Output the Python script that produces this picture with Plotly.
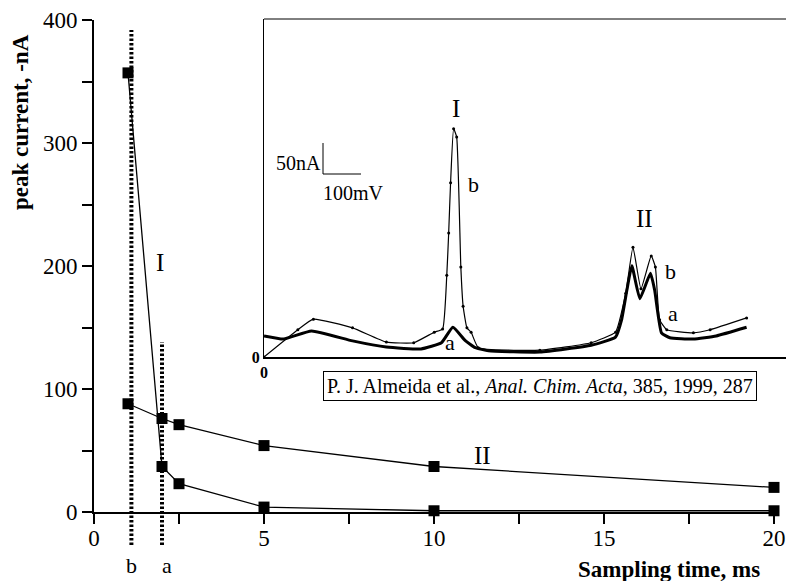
import plotly.graph_objects as go

W, H = 786, 581
def px(x):
    return x / W
def py(y):
    return 1 - y / H

# ---------------- main plot data ----------------
sampling_time = [1.0, 2.0, 2.5, 5, 10, 20]
peak_I = [357, 37, 23, 4, 1, 1]
peak_II = [88, 76, 71, 54, 37, 20]
x_ticks = [0, 2.5, 5, 7.5, 10, 12.5, 15, 17.5, 20]
x_tick_labels = ["0", "", "5", "", "10", "", "15", "", "20"]
y_ticks = [0, 50, 100, 150, 200, 250, 300, 350, 400]
y_tick_labels = ["0", "", "100", "", "200", "", "300", "", "400"]
t_b = 1.1
t_a = 2.0

# ---------------- inset voltammogram data (mV, nA) ----------------
pot_b = [0, 89, 130, 233, 322, 394, 448, 470, 481, 486, 491, 499, 507, 518, 524, 534, 545, 564,
         726, 861, 925, 952, 971, 992, 1019, 1030, 1041, 1060, 1130, 1174, 1270]
cur_b = [0, 44, 61, 47, 24, 23, 40, 45, 132, 200, 281, 368, 355, 145, 82, 47, 40, 15,
         11, 23, 40, 103, 177, 110, 163, 145, 60, 44, 39, 44, 63]
pot_a = [0, 52, 125, 233, 322, 413, 467, 497, 529, 556, 591, 726, 861, 925, 941, 955, 968,
         989, 1017, 1028, 1046, 1068, 1130, 1190, 1270]
cur_a = [34, 29, 42, 26, 16, 13, 23, 48, 27, 15, 10, 8, 19, 32, 60, 108, 147,
         94, 135, 108, 39, 31, 29, 34, 48]

SERIF = "Liberation Serif, Times New Roman, serif"

fig = go.Figure()

for ys in (peak_I, peak_II):
    fig.add_trace(go.Scatter(
        x=sampling_time, y=ys, mode="lines+markers",
        line=dict(color="black", width=1.3),
        marker=dict(symbol="square", size=11, color="black"),
        cliponaxis=False, showlegend=False, xaxis="x", yaxis="y"))

fig.add_trace(go.Scatter(
    x=pot_b, y=cur_b, mode="lines+markers",
    line=dict(color="black", width=1.2, shape="spline", smoothing=0.4),
    marker=dict(size=3, color="black"),
    showlegend=False, xaxis="x2", yaxis="y2"))
fig.add_trace(go.Scatter(
    x=pot_a, y=cur_a, mode="lines",
    line=dict(color="black", width=3, shape="spline", smoothing=0.4),
    showlegend=False, xaxis="x2", yaxis="y2"))

tickfont = dict(family=SERIF, size=23, color="black")

fig.update_layout(
    template="none",
    width=W, height=H,
    margin=dict(l=0, r=0, t=0, b=0, autoexpand=False),
    paper_bgcolor="white", plot_bgcolor="rgba(0,0,0,0)",
    xaxis=dict(domain=[px(94), px(774)], range=[0, 20],
               tickvals=x_ticks, ticktext=x_tick_labels,
               ticks="outside", ticklen=10, tickwidth=2, tickcolor="black",
               ticklabelstandoff=-6,
               showline=True, linewidth=2, linecolor="black", automargin=False,
               showgrid=False, zeroline=False, tickfont=tickfont,
               anchor="y"),
    yaxis=dict(domain=[py(512), py(20)], range=[0, 400],
               tickvals=y_ticks, ticktext=y_tick_labels,
               ticks="outside", ticklen=10, tickwidth=2, tickcolor="black",
               showline=True, linewidth=2, linecolor="black", automargin=False,
               showgrid=False, zeroline=False, tickfont=tickfont,
               anchor="x"),
    xaxis2=dict(domain=[px(264), 1.0], range=[0, (W - 264) / 38 * 100],
                tickvals=[0], ticktext=["<b>0</b>"], ticks="",
                tickfont=dict(family=SERIF, size=16, color="black"),
                showline=True, linewidth=2, linecolor="black", automargin=False,
                showgrid=False, zeroline=False, anchor="y2"),
    yaxis2=dict(domain=[py(357), py(19)], range=[0, (357 - 19) * 50 / 31],
                tickvals=[0], ticktext=["<b>0</b>"], ticks="",
                tickfont=dict(family=SERIF, size=16, color="black"),
                showline=True, linewidth=1, linecolor="black", automargin=False,
                showgrid=False, zeroline=False, anchor="x2"),
)

shapes = [
    # dotted sampling-time markers
    dict(type="line", xref="x", yref="paper", x0=t_b, x1=t_b, y0=py(545), y1=py(30),
         line=dict(color="black", width=4, dash="2.5px,2px")),
    dict(type="line", xref="x", yref="paper", x0=t_a, x1=t_a, y0=py(545), y1=py(342),
         line=dict(color="black", width=4, dash="2.5px,2px")),
    # inset top border
    dict(type="line", xref="paper", yref="paper", x0=px(264), x1=1.0, y0=py(19), y1=py(19),
         line=dict(color="black", width=1)),
    # scale bar
    dict(type="line", xref="paper", yref="paper", x0=px(323), x1=px(323), y0=py(143), y1=py(174),
         line=dict(color="black", width=1)),
    dict(type="line", xref="paper", yref="paper", x0=px(323), x1=px(361), y0=py(174), y1=py(174),
         line=dict(color="black", width=1)),
]
fig.update_layout(shapes=shapes)

def ann(text, x, y, size, xanchor="center", yanchor="middle", **kw):
    fig.add_annotation(text=text, x=px(x), y=py(y), xref="paper", yref="paper",
                       xanchor=xanchor, yanchor=yanchor, showarrow=False,
                       font=dict(family=SERIF, size=size, color="black"), **kw)

ann("<b>peak current, -nA</b>", 20, 122, 23, textangle=-90)
ann("<b>Sampling time, ms</b>", 669, 569, 23)
ann("I", 160, 262, 25)
ann("II", 482, 455, 25)
ann("b", 131, 565, 22)
ann("a", 167, 565, 22)
# inset labels
ann("I", 456, 108, 25)
ann("b", 473, 185, 22)
ann("a", 450, 342, 22)
ann("II", 644, 218, 25)
ann("b", 670, 271, 22)
ann("a", 673, 313, 22)
ann("50nA", 323, 163, 20, xanchor="right")
ann("100mV", 321, 193, 20, xanchor="left")
fig.add_annotation(text="P. J. Almeida et al., <i>Anal. Chim. Acta</i>, 385, 1999, 287",
                   x=px(540), y=py(386), xref="paper", yref="paper",
                   xanchor="center", yanchor="middle", showarrow=False,
                   font=dict(family=SERIF, size=20, color="black"),
                   bordercolor="black", borderwidth=1, borderpad=3, bgcolor="white")

fig.write_html("out.html")
